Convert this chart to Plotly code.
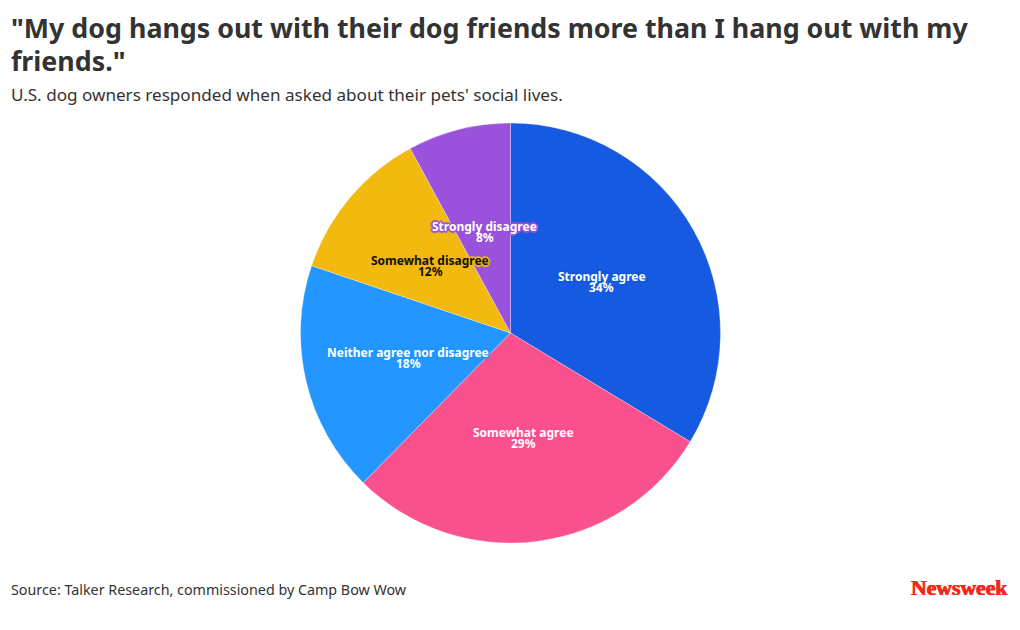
import math
import plotly.graph_objects as go

labels = ['Strongly agree', 'Somewhat agree', 'Neither agree nor disagree', 'Somewhat disagree', 'Strongly disagree']
values = [34, 29, 18, 12, 8]
colors = ['#155ae0', '#f9508e', '#2496ff', '#f2b90f', '#9a52dc']
label_colors = ['#ffffff', '#ffffff', '#ffffff', '#111111', '#ffffff']

title_lines = ['"My dog hangs out with their dog friends more than I hang out with my', 'friends."']
subtitle = "U.S. dog owners responded when asked about their pets' social lives."
source = 'Source: Talker Research, commissioned by Camp Bow Wow'

# the page body has an 8px margin, so the figure is 16px smaller than the window
W, H = 1004, 614
OFF = 8
FONT = 'Noto Sans'
# pie box in window pixels
cx, cy, R = 510.5 - OFF, 333 - OFF, 210


def add_text(x, y, text, size, color, anchor='left', family=FONT, shadow=None):
    fig.add_annotation(x=(x - OFF) / W, y=1 - (y - OFF) / H, xref='paper', yref='paper',
                       xanchor=anchor, yanchor='middle', showarrow=False, text=text,
                       font=dict(family=family, size=size, color=color, shadow=shadow))


fig = go.Figure(go.Pie(
    labels=labels, values=values, sort=False, direction='clockwise', rotation=0,
    marker=dict(colors=colors, line=dict(color='rgba(255,255,255,0.6)', width=0.5)),
    textinfo='none', hoverinfo='label+value', showlegend=False,
    domain=dict(x=[(cx - R) / W, (cx + R) / W], y=[(H - cy - R) / H, (H - cy + R) / H]),
))

# slice labels sit halfway out along each slice's middle angle
total = sum(values)
running = 0
for name, val, col, txt in zip(labels, values, colors, label_colors):
    ang = 2 * math.pi * (running + val / 2) / total
    running += val
    px = cx + OFF + R / 2 * math.sin(ang)
    py = cy + OFF - R / 2 * math.cos(ang) + 1
    halo = ', '.join(f'{dx}px {dy}px 1px {col}' for dx, dy in
                     [(-2, 0), (2, 0), (0, -2), (0, 2), (-1, -1), (1, 1), (-1, 1), (1, -1)])
    # the lines are tight, so only the name gets a halo and the percent goes on top
    add_text(px, py - 5.5, f'<b>{name}</b>', 12, txt, 'center', shadow=halo)
    add_text(px, py + 5.5, f'<b>{val}%</b>', 12, txt, 'center')

add_text(9, 27, f'<b>{title_lines[0]}</b>', 26.8, '#333333')
add_text(9, 60, f'<b>{title_lines[1]}</b>', 26.8, '#333333')
add_text(9, 94, subtitle, 17.1, '#333333')
add_text(9, 589, source, 14.3, '#333333')
add_text(1010, 588, '<b>Newsweek</b>', 21.7, '#f4291a', 'right', 'Liberation Serif',
         shadow='0.5px 0 0 #f4291a, -0.5px 0 0 #f4291a')

fig.update_layout(width=W, height=H, margin=dict(l=0, r=0, t=0, b=0),
                  paper_bgcolor='white', plot_bgcolor='white', font=dict(family=FONT))

fig.write_html("out.html")
